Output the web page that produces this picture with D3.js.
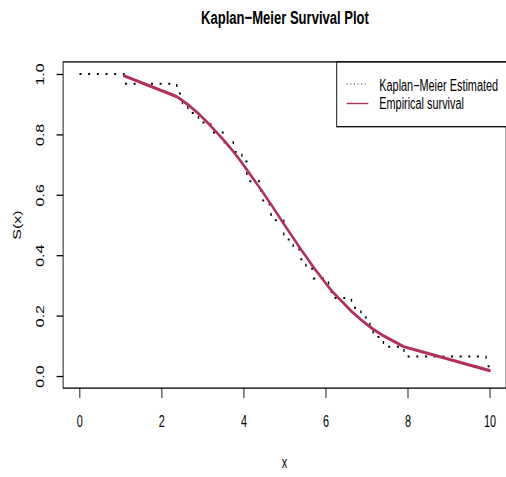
<!DOCTYPE html>
<html>
<head>
<meta charset="utf-8">
<script src="https://cdn.jsdelivr.net/npm/d3@7"></script>
<style>
  html, body { margin: 0; padding: 0; background: #fff; }
  svg { display: block; }
  text { font-family: "Liberation Sans", Arial, Helvetica, sans-serif; fill: #000; }
</style>
</head>
<body>
<div id="chart"></div>
<script>
// Kaplan–Meier step estimate (event times and survival after each step)
const kmTime = [0, 1.085, 2.37, 2.51, 2.64, 2.90, 3.20, 3.53, 3.75, 3.96,
                4.08, 4.42, 4.45, 4.63, 4.67, 4.98, 5.21, 5.38, 5.52, 5.70,
                6.07, 6.14, 6.63, 6.86, 7.08, 7.16, 7.41, 7.91, 9.91, 10];
const kmSurv = [1, 0.968, 0.935, 0.903, 0.871, 0.839, 0.806, 0.774, 0.742, 0.710,
                0.645, 0.613, 0.581, 0.548, 0.516, 0.452, 0.419, 0.387, 0.355, 0.323,
                0.290, 0.258, 0.226, 0.194, 0.161, 0.129, 0.097, 0.065, 0.032, 0.032];

// Empirical survival curve, evaluated at the event times
const empTime = [1.085, 2.37, 2.51, 2.64, 2.90, 3.20, 3.53, 3.75, 3.96, 4.08,
                 4.42, 4.45, 4.63, 4.67, 4.98, 5.21, 5.38, 5.52, 5.70, 6.07,
                 6.14, 6.63, 6.86, 7.08, 7.16, 7.41, 7.91, 10];
const empSurv = [0.994, 0.925, 0.912, 0.899, 0.869, 0.828, 0.779, 0.743, 0.706, 0.683,
                 0.618, 0.612, 0.576, 0.568, 0.504, 0.457, 0.423, 0.396, 0.361, 0.295,
                 0.283, 0.214, 0.187, 0.163, 0.155, 0.133, 0.097, 0.018];

const xTicks = [0, 2, 4, 6, 8, 10];
const yTicks = [0, 0.2, 0.4, 0.6, 0.8, 1.0];
const legendLabels = ["Kaplan\u2212Meier Estimated", "Empirical survival"];

const W = 506, H = 477;
const K = 0.68;              // horizontal compression of the drawing
const FONT = 16;
const RED = "#B03060";

const svg = d3.select("#chart").append("svg")
  .attr("width", W).attr("height", H);

const root = svg.append("g").attr("transform", `scale(${K},1)`);

const x = d3.scaleLinear().domain([-0.4, 10.4]).range([63.1 / K, 506.1 / K]);
const y = d3.scaleLinear().domain([-0.04, 1.04]).range([388.1, 61.9]);

// Kaplan–Meier estimate: dotted step line
const kmPts = kmTime.map((t, i) => [t, kmSurv[i]]);
root.append("path")
  .datum(kmPts)
  .attr("fill", "none")
  .attr("stroke", "#000")
  .attr("stroke-width", 2)
  .attr("stroke-dasharray", "2.9 9.85")
  .attr("d", d3.line().x(d => x(d[0])).y(d => y(d[1])).curve(d3.curveStepAfter));

// Empirical survival curve
const empPts = empTime.map((t, i) => [t, empSurv[i]]);
root.append("path")
  .datum(empPts)
  .attr("fill", "none")
  .attr("stroke", RED)
  .attr("stroke-width", 3.2)
  .attr("stroke-linejoin", "round")
  .attr("stroke-linecap", "round")
  .attr("d", d3.line().x(d => x(d[0])).y(d => y(d[1])));

// Plot frame
root.append("rect")
  .attr("x", x(-0.4)).attr("y", y(1.04))
  .attr("width", x(10.4) - x(-0.4)).attr("height", y(-0.04) - y(1.04))
  .attr("fill", "none").attr("stroke", "#000").attr("stroke-width", 1.3);

// X axis
const gx = root.append("g")
  .attr("transform", `translate(0,${y(-0.04)})`)
  .call(d3.axisBottom(x).tickValues(xTicks).tickFormat(d3.format("d"))
        .tickSize(10).tickSizeOuter(0).tickPadding(17.5));
gx.select(".domain").remove();
gx.selectAll("line").attr("stroke", "#000").attr("stroke-width", 1.3);
gx.selectAll("text").attr("font-size", FONT).attr("font-family", null);

// Y axis with rotated labels
const gy = root.append("g")
  .attr("transform", `translate(${x(-0.4)},0)`)
  .call(d3.axisLeft(y).tickValues(yTicks).tickFormat(d3.format(".1f"))
        .tickSize(9.6).tickSizeOuter(0));
gy.select(".domain").remove();
gy.selectAll("line").attr("stroke", "#000").attr("stroke-width", 1.3);
gy.selectAll("text")
  .attr("x", null).attr("dy", null)
  .attr("text-anchor", "middle")
  .attr("font-size", FONT).attr("font-family", null)
  .attr("transform", `translate(${-(x(-0.4) - 44 / K)},0) rotate(-90)`);

// Titles
root.append("text")
  .attr("x", 285 / K).attr("y", 24)
  .attr("text-anchor", "middle")
  .attr("font-size", 19.2).attr("font-weight", "bold")
  .text("Kaplan\u2212Meier Survival Plot");

root.append("text")
  .attr("x", x(5)).attr("y", 468)
  .attr("text-anchor", "middle")
  .attr("font-size", FONT)
  .text("x");

root.append("text")
  .attr("transform", `translate(${21 / K},${(y(-0.04) + y(1.04)) / 2}) rotate(-90)`)
  .attr("text-anchor", "middle")
  .attr("font-size", FONT)
  .text("S(x)");

// Legend
const lg = root.append("g");
lg.append("rect")
  .attr("x", 336.7 / K).attr("y", 62)
  .attr("width", (506.5 - 336.7) / K).attr("height", 126.7 - 62)
  .attr("fill", "#fff").attr("stroke", "#000").attr("stroke-width", 1.3);

const rowY = [84, 103.5];
const rowBase = [90.7, 109];
lg.append("line")
  .attr("x1", 346.7 / K).attr("x2", 368.3 / K)
  .attr("y1", rowY[0]).attr("y2", rowY[0])
  .attr("stroke", "#000").attr("stroke-width", 1)
  .attr("stroke-dasharray", "1.5 3.8");
lg.append("line")
  .attr("x1", 346.7 / K).attr("x2", 368.3 / K)
  .attr("y1", rowY[1]).attr("y2", rowY[1])
  .attr("stroke", RED).attr("stroke-width", 1.4);

lg.selectAll("text.lab")
  .data(legendLabels)
  .join("text")
  .attr("class", "lab")
  .attr("x", 379.3 / K)
  .attr("y", (d, i) => rowBase[i])
  .attr("font-size", FONT)
  .text(d => d);
</script>
</body>
</html>
